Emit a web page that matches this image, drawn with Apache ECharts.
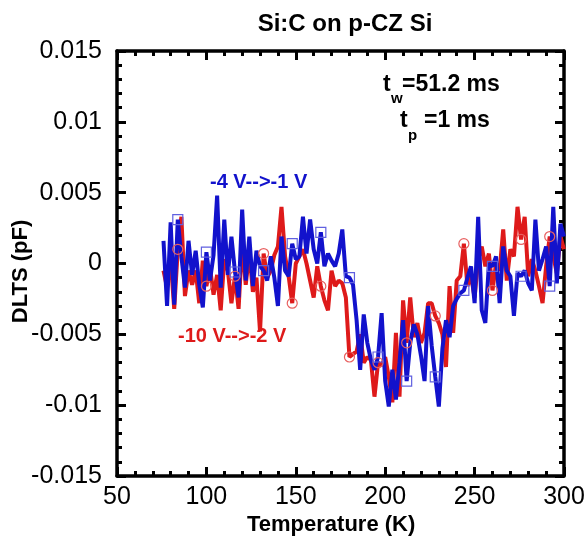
<!DOCTYPE html>
<html>
<head>
<meta charset="utf-8">
<script src="https://cdn.jsdelivr.net/npm/echarts@6/dist/echarts.min.js"></script>
<style>
  html, body { margin: 0; padding: 0; background: #fff; }
  #chart { width: 586px; height: 543px; }
</style>
</head>
<body>
<div id="chart"></div>
<script>
// Temperature scan points (K)
const temperature = [
  76, 78, 80, 82, 84, 86, 88, 90, 92, 94, 96, 98, 100, 102, 104, 106, 108, 110, 112, 114,
  116, 118, 120, 122, 124, 126, 128, 130, 132, 134, 136, 138, 140, 142, 144, 146, 148, 150, 152, 154,
  156, 158, 160, 162, 164, 166, 168, 170, 172, 174, 176, 178, 180, 182, 184, 186, 188, 190, 192, 194,
  196, 198, 200, 202, 204, 206, 208, 210, 212, 214, 216, 218, 220, 222, 224, 226, 228, 230, 232, 234,
  236, 238, 240, 242, 244, 246, 248, 250, 252, 254, 256, 258, 260, 262, 264, 266, 268, 270, 272, 274,
  276, 278, 280, 282, 284, 286, 288, 290, 292, 294, 296, 298, 300
];

// DLTS signal (pF), bias -4 V --> -1 V
const dltsBiasMinus4 = [
  0.0016, -0.0030, 0.0029, -0.0029, 0.0031, 0.0005, -0.0017, 0.0016, -0.0008, 0.0009,
  -0.0015, -0.0031, 0.0008, -0.0012, 0.0006, 0.0048, -0.0017, 0.0031, -0.0008, 0.0019,
  -0.0006, -0.0024, 0.0038, -0.0012, 0.0019, -0.0016, 0.0009, -0.0002, -0.0005, -0.0012,
  0.0005, -0.0010, -0.0030, 0.0019, -0.0005, -0.0009, 0.0014, 0.0003, 0.0005, 0.0033,
  0.0007, 0.0031, 0.0010, 0.0000, 0.0022, -0.0002, 0.0007, 0.0002, -0.0002, 0.0007,
  0.0024, -0.0009, -0.0010, -0.0015, -0.0040, -0.0075, -0.0036, -0.0056, -0.0068, -0.0075,
  -0.0066, -0.0035, -0.0083, -0.0101, -0.0075, -0.0096, -0.0070, -0.0040, -0.0083, -0.0056,
  -0.0043, -0.0050, -0.0065, -0.0083, -0.0030, -0.0058, -0.0080, -0.0101, -0.0060, -0.0040,
  -0.0052, -0.0030, -0.0025, -0.0021, -0.0019, -0.0010, -0.0002, -0.0028, 0.0033, -0.0033,
  -0.0042, 0.0000, -0.0002, 0.0005, -0.0028, 0.0012, -0.0005, -0.0009, -0.0037, -0.0007,
  -0.0009, -0.0005, -0.0014, -0.0019, 0.0031, -0.0005, 0.0003, 0.0012, -0.0016, 0.0040,
  -0.0014, 0.0028, 0.0019
];

// DLTS signal (pF), bias -10 V --> -2 V
const dltsBiasMinus10 = [
  -0.0005, -0.0017, 0.0003, -0.0032, 0.0010, 0.0033, -0.0023, -0.0005, -0.0015, -0.0005,
  -0.0028, 0.0002, -0.0016, -0.0003, -0.0022, -0.0008, -0.0033, 0.0003, -0.0005, -0.0028,
  -0.0009, -0.0032, 0.0015, -0.0015, 0.0008, -0.0020, -0.0010, -0.0048, 0.0007, -0.0010,
  -0.0005, 0.0006, 0.0012, 0.0040, 0.0005, -0.0009, -0.0028, 0.0000, 0.0005, 0.0010,
  0.0000, -0.0012, -0.0024, -0.0002, -0.0016, -0.0026, -0.0033, -0.0005, -0.0016, -0.0012,
  -0.0014, -0.0024, -0.0066, -0.0064, -0.0062, -0.0050, -0.0070, -0.0066, -0.0068, -0.0094,
  -0.0070, -0.0072, -0.0066, -0.0080, -0.0098, -0.0049, -0.0094, -0.0026, -0.0056, -0.0024,
  -0.0052, -0.0042, -0.0056, -0.0049, -0.0028, -0.0028, -0.0037, -0.0042, -0.0050, -0.0073,
  -0.0016, -0.0049, -0.0012, -0.0009, 0.0014, -0.0016, -0.0009, -0.0024, 0.0003, 0.0012,
  -0.0002, 0.0007, -0.0019, 0.0000, -0.0005, 0.0024, -0.0012, 0.0010, 0.0005, 0.0040,
  0.0017, 0.0033, -0.0009, 0.0003, -0.0005, -0.0016, -0.0028, -0.0002, 0.0019, 0.0005,
  -0.0007, 0.0019, 0.0010
];

// axis ranges and tick spacing
const tempRange = { min: 50, max: 300, major: 50, minor: 10 };
const dltsRange = { min: -0.015, max: 0.015, major: 0.005, minor: 0.001 };

const RED = '#de1a1a';
const BLUE = '#1212cc';
const FONT = '"Liberation Sans", Arial, sans-serif';

// plot frame in pixels
const PLOT = { left: 117, top: 51, right: 22, bottom: 67, width: 447, height: 425 };
const MAJOR_LEN = 9;
const MINOR_LEN = 5;

function pairs(values) {
  return temperature.map((t, i) => [t, values[i]]);
}

// open markers on every eighth scan point
function markerSize(value, params) {
  return params.dataIndex % 8 === 4 ? 10 : 0;
}

function fmtY(v) {
  return String(parseFloat(v.toFixed(4)));
}

const frameLine = { show: true, onZero: false, lineStyle: { color: '#000', width: 3.5 } };
const tickLine = { show: true, lineStyle: { color: '#000', width: 3 } };

// main plotting grid
const grids = [{ left: PLOT.left, top: PLOT.top, right: PLOT.right, bottom: PLOT.bottom, outerBoundsMode: 'none' }];
const xAxes = [
  {
    type: 'value', gridIndex: 0, position: 'bottom', min: tempRange.min, max: tempRange.max, interval: tempRange.major,
    axisLine: frameLine, axisTick: { show: false }, splitLine: { show: false },
    axisLabel: { fontFamily: FONT, fontSize: 25, color: '#000', margin: 9 }
  },
  {
    type: 'value', gridIndex: 0, position: 'top', min: tempRange.min, max: tempRange.max, interval: tempRange.major,
    axisLine: frameLine, axisTick: { show: false }, splitLine: { show: false }, axisLabel: { show: false }
  }
];
const yAxes = [
  {
    type: 'value', gridIndex: 0, position: 'left', min: dltsRange.min, max: dltsRange.max, interval: dltsRange.major,
    axisLine: frameLine, axisTick: { show: false }, splitLine: { show: false },
    axisLabel: { fontFamily: FONT, fontSize: 25, color: '#000', margin: 15, formatter: fmtY }
  },
  {
    type: 'value', gridIndex: 0, position: 'right', min: dltsRange.min, max: dltsRange.max, interval: dltsRange.major,
    axisLine: frameLine, axisTick: { show: false }, splitLine: { show: false }, axisLabel: { show: false }
  }
];

// inward tick marks: thin strips along each edge of the frame whose split lines sit on the tick values
function tempTickStrip(top, len, step) {
  const gi = grids.length;
  grids.push({ left: PLOT.left, width: PLOT.width, top: top, height: len, outerBoundsMode: 'none' });
  xAxes.push({
    type: 'value', gridIndex: gi, min: tempRange.min, max: tempRange.max, interval: step,
    axisLine: { show: false }, axisTick: { show: false }, axisLabel: { show: false },
    splitLine: tickLine
  });
  yAxes.push({ type: 'value', gridIndex: gi, show: false, min: 0, max: 1 });
}
function dltsTickStrip(left, len, step) {
  const gi = grids.length;
  grids.push({ left: left, width: len, top: PLOT.top, height: PLOT.height, outerBoundsMode: 'none' });
  yAxes.push({
    type: 'value', gridIndex: gi, min: dltsRange.min, max: dltsRange.max, interval: step,
    axisLine: { show: false }, axisTick: { show: false }, axisLabel: { show: false },
    splitLine: tickLine
  });
  xAxes.push({ type: 'value', gridIndex: gi, show: false, min: 0, max: 1 });
}

const plotBottom = PLOT.top + PLOT.height;
const plotRight = PLOT.left + PLOT.width;
tempTickStrip(plotBottom - MAJOR_LEN, MAJOR_LEN, tempRange.major);
tempTickStrip(plotBottom - MINOR_LEN, MINOR_LEN, tempRange.minor);
tempTickStrip(PLOT.top, MAJOR_LEN, tempRange.major);
tempTickStrip(PLOT.top, MINOR_LEN, tempRange.minor);
dltsTickStrip(PLOT.left, MAJOR_LEN, dltsRange.major);
dltsTickStrip(PLOT.left, MINOR_LEN, dltsRange.minor);
dltsTickStrip(plotRight - MAJOR_LEN, MAJOR_LEN, dltsRange.major);
dltsTickStrip(plotRight - MINOR_LEN, MINOR_LEN, dltsRange.minor);

const chart = echarts.init(document.getElementById('chart'), null, { renderer: 'canvas' });

chart.setOption({
  animation: false,
  title: {
    text: 'Si:C on p-CZ Si',
    left: 340, top: 7, textAlign: 'center',
    textStyle: { fontFamily: FONT, fontWeight: 'bold', fontSize: 24, color: '#000' }
  },
  grid: grids,
  xAxis: xAxes,
  yAxis: yAxes,
  series: [
    {
      name: '-10 V-->-2 V', type: 'line', xAxisIndex: 0, yAxisIndex: 0,
      data: pairs(dltsBiasMinus10),
      lineStyle: { color: RED, width: 4 },
      symbol: 'circle', symbolSize: markerSize, showAllSymbol: true,
      itemStyle: { color: 'rgba(0,0,0,0)', borderColor: '#e86060', borderWidth: 1.2 }
    },
    {
      name: '-4 V-->-1 V', type: 'line', xAxisIndex: 0, yAxisIndex: 0,
      data: pairs(dltsBiasMinus4),
      lineStyle: { color: BLUE, width: 4 },
      symbol: 'rect', symbolSize: markerSize, showAllSymbol: true,
      itemStyle: { color: 'rgba(0,0,0,0)', borderColor: '#6060e0', borderWidth: 1.2 }
    }
  ],
  graphic: [
    // axis titles
    { type: 'text', left: 247, top: 514, style: { text: 'Temperature (K)', font: 'bold 22px ' + FONT, fill: '#000' } },
    { type: 'text', left: 10, top: 'middle', rotation: Math.PI / 2,
      style: { text: 'DLTS (pF)', font: 'bold 22px ' + FONT, fill: '#000' } },
    // pulse settings
    { type: 'text', left: 383, top: 73, style: { text: 't', font: 'bold 23px ' + FONT, fill: '#000' } },
    { type: 'text', left: 391, top: 91, style: { text: 'w', font: 'bold 15px ' + FONT, fill: '#000' } },
    { type: 'text', left: 402, top: 73, style: { text: '=51.2 ms', font: 'bold 23px ' + FONT, fill: '#000' } },
    { type: 'text', left: 400, top: 109, style: { text: 't', font: 'bold 23px ' + FONT, fill: '#000' } },
    { type: 'text', left: 408, top: 128, style: { text: 'p', font: 'bold 15px ' + FONT, fill: '#000' } },
    { type: 'text', left: 424, top: 109, style: { text: '=1 ms', font: 'bold 23px ' + FONT, fill: '#000' } },
    // bias conditions
    { type: 'text', left: 210, top: 172, style: { text: '-4 V-->-1 V', font: 'bold 20px ' + FONT, fill: BLUE } },
    { type: 'text', left: 178, top: 326, style: { text: '-10 V-->-2 V', font: 'bold 20px ' + FONT, fill: RED } }
  ]
});
</script>
</body>
</html>
